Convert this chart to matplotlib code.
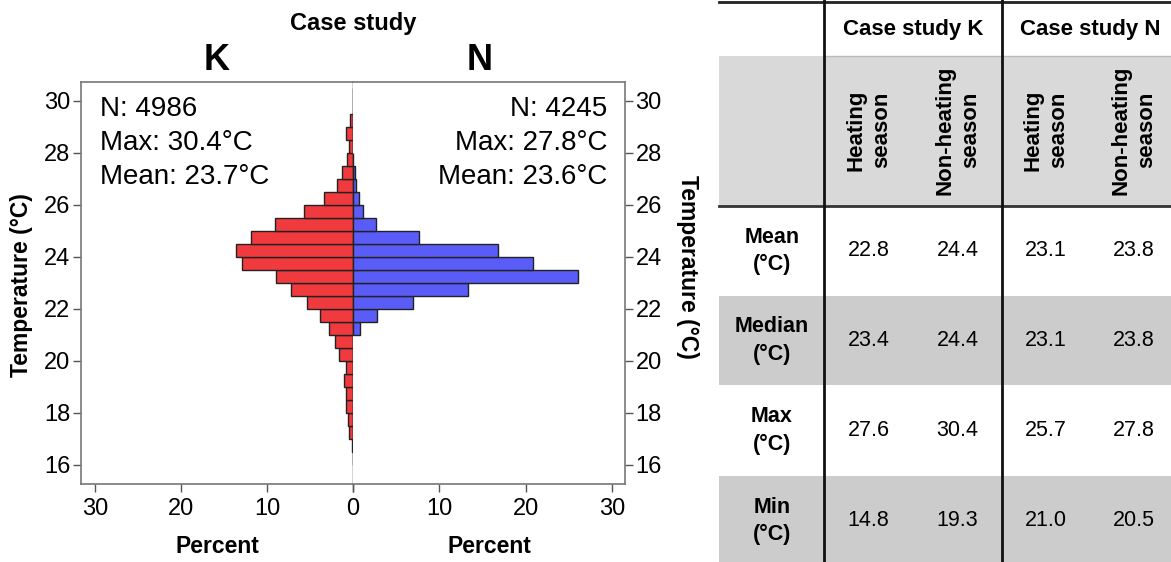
import numpy as np
import matplotlib
matplotlib.use("Agg")
import matplotlib.pyplot as plt
from matplotlib.patches import Rectangle

plt.rcParams["font.family"] = ["Liberation Sans", "DejaVu Sans"]

# histogram data: lower edge of each 0.5 degC bin, percent of readings
bins_k = [16.0, 16.5, 17.0, 17.5, 18.0, 18.5, 19.0, 19.5, 20.0, 20.5, 21.0, 21.5,
          22.0, 22.5, 23.0, 23.5, 24.0, 24.5, 25.0, 25.5, 26.0, 26.5, 27.0, 27.5,
          28.0, 28.5, 29.0, 29.5, 30.0]
pct_k = [0.05, 0.1, 0.45, 0.55, 0.8, 0.8, 1.07, 0.8, 1.6, 2.1, 2.8, 3.85,
         5.4, 7.25, 8.9, 12.9, 13.6, 11.8, 9.1, 5.7, 3.35, 1.85, 1.24, 0.66,
         0.46, 0.85, 0.31, 0.05, 0.05]
bins_n = [21.0, 21.5, 22.0, 22.5, 23.0, 23.5, 24.0, 24.5, 25.0, 25.5, 26.0, 26.5,
          27.0, 27.5]
pct_n = [0.8, 2.75, 6.9, 13.3, 26.0, 20.85, 16.8, 7.7, 2.62, 1.12, 0.66, 0.3,
         0.27, 0.05]

stats_k = ["N: 4986", "Max: 30.4°C", "Mean: 23.7°C"]
stats_n = ["N: 4245", "Max: 27.8°C", "Mean: 23.6°C"]

# table data
groups = ["Case study K", "Case study N"]
seasons = ["Heating\nseason", "Non-heating\nseason", "Heating\nseason", "Non-heating\nseason"]
row_names = ["Mean\n(°C)", "Median\n(°C)", "Max\n(°C)", "Min\n(°C)"]
table_vals = [["22.8", "24.4", "23.1", "23.8"],
              ["23.4", "24.4", "23.1", "23.8"],
              ["27.6", "30.4", "25.7", "27.8"],
              ["14.8", "19.3", "21.0", "20.5"]]

W, H = 1171, 562
fig = plt.figure(figsize=(W / 100, H / 100), dpi=100)

x0, xm, x1 = 81, 353, 625
ytop, ybot = 82.3, 484
axl = fig.add_axes([x0 / W, 1 - ybot / H, (xm - x0) / W, (ybot - ytop) / H])
axr = fig.add_axes([xm / W, 1 - ybot / H, (x1 - xm) / W, (ybot - ytop) / H])

red = "#f03a3e"
blue = "#5a5cf8"
axl.barh(bins_k, pct_k, height=0.5, align="edge", color=red, edgecolor="#222222", linewidth=1)
axr.barh(bins_n, pct_n, height=0.5, align="edge", color=blue, edgecolor="#222222", linewidth=1)

for ax in (axl, axr):
    ax.set_ylim(15.27, 30.7)
    ax.set_yticks([16, 18, 20, 22, 24, 26, 28, 30])
    ax.tick_params(labelsize=17, length=6, width=1, color="#555555", pad=1.5)
    for s in ax.spines.values():
        s.set_color("#777777")
        s.set_linewidth(1.2)

axl.set_xlim(31.6, 0)
axl.set_xticks([30, 20, 10, 0])
axl.spines["right"].set_color("#222222")
axl.spines["right"].set_linewidth(1)
axl.tick_params(axis="y", left=True, right=False)
axl.tick_params(axis="x", pad=4)

axr.set_xlim(0, 31.5)
axr.set_xticks([0, 10, 20, 30])
axr.set_xticklabels(["", "10", "20", "30"])
axr.spines["left"].set_visible(False)
axr.yaxis.tick_right()
axr.tick_params(axis="x", pad=4)

axl.set_xlabel("Percent", fontsize=16.5, fontweight="bold", labelpad=11)
axr.set_xlabel("Percent", fontsize=16.5, fontweight="bold", labelpad=11)

for i, s in enumerate(stats_k):
    axl.text(0.07, 0.917 - i * 0.085, s, transform=axl.transAxes, fontsize=20,
             ha="left", va="baseline")
for i, s in enumerate(stats_n):
    axr.text(0.934, 0.917 - i * 0.085, s, transform=axr.transAxes, fontsize=20,
             ha="right", va="baseline")

fig.text(xm / W, 1 - 30 / H, "Case study", ha="center", va="baseline", fontsize=17, fontweight="bold")
fig.text(217 / W, 1 - 70 / H, "K", ha="center", va="baseline", fontsize=26, fontweight="bold")
fig.text(480 / W, 1 - 70 / H, "N", ha="center", va="baseline", fontsize=26, fontweight="bold")
fig.text(22 / W, 1 - 285 / H, "Temperature (°C)", rotation=90, ha="center", va="center",
         fontsize=16.5, fontweight="bold")
fig.text(688 / W, 1 - 267 / H, "Temperature (°C)", rotation=270, ha="center", va="center",
         fontsize=16.5, fontweight="bold")

# table on the right, drawn in pixel coordinates
axt = fig.add_axes([700 / W, 0, (W - 700) / W, 1])
axt.set_xlim(700, W)
axt.set_ylim(H, 0)
axt.axis("off")

col_edges = [719, 824, 913, 1002, 1090, 1178]
row_edges = [206, 295.7, 385.3, 475.6, 566]
light = "#d9d9d9"
mid = "#cccccc"

axt.add_patch(Rectangle((719, 55.6), 460, 150.4, color=light, lw=0))
for r in range(4):
    if r % 2 == 1:
        axt.add_patch(Rectangle((719, row_edges[r]), 460, row_edges[r + 1] - row_edges[r], color=mid, lw=0))

axt.plot([719, W], [1.5, 1.5], color="#222222", lw=2)
axt.plot([824, W], [55.6, 55.6], color="#bbbbbb", lw=1)
axt.plot([719, W], [206, 206], color="#333333", lw=2)
for xv in (824, 1002):
    axt.plot([xv, xv], [0, H], color="#111111", lw=2)

for g, name in enumerate(groups):
    cx = (col_edges[1 + 2 * g] + col_edges[3 + 2 * g]) / 2
    axt.text(cx, 29.5, name, ha="center", va="center", fontsize=16, fontweight="bold")

for c, name in enumerate(seasons):
    cx = (col_edges[c + 1] + col_edges[c + 2]) / 2
    axt.text(cx, 130, name, rotation=90, ha="center", va="center", fontsize=16,
             fontweight="bold", multialignment="center", linespacing=1.3)

for r, name in enumerate(row_names):
    cy = (row_edges[r] + row_edges[r + 1]) / 2
    axt.text(772, cy, name, ha="center", va="center", fontsize=15.5, fontweight="bold",
             multialignment="center", linespacing=1.4)
    for c, v in enumerate(table_vals[r]):
        cx = (col_edges[c + 1] + col_edges[c + 2]) / 2
        axt.text(cx, cy, v, ha="center", va="center", fontsize=15.5)

fig.savefig("out.png", dpi=100)
